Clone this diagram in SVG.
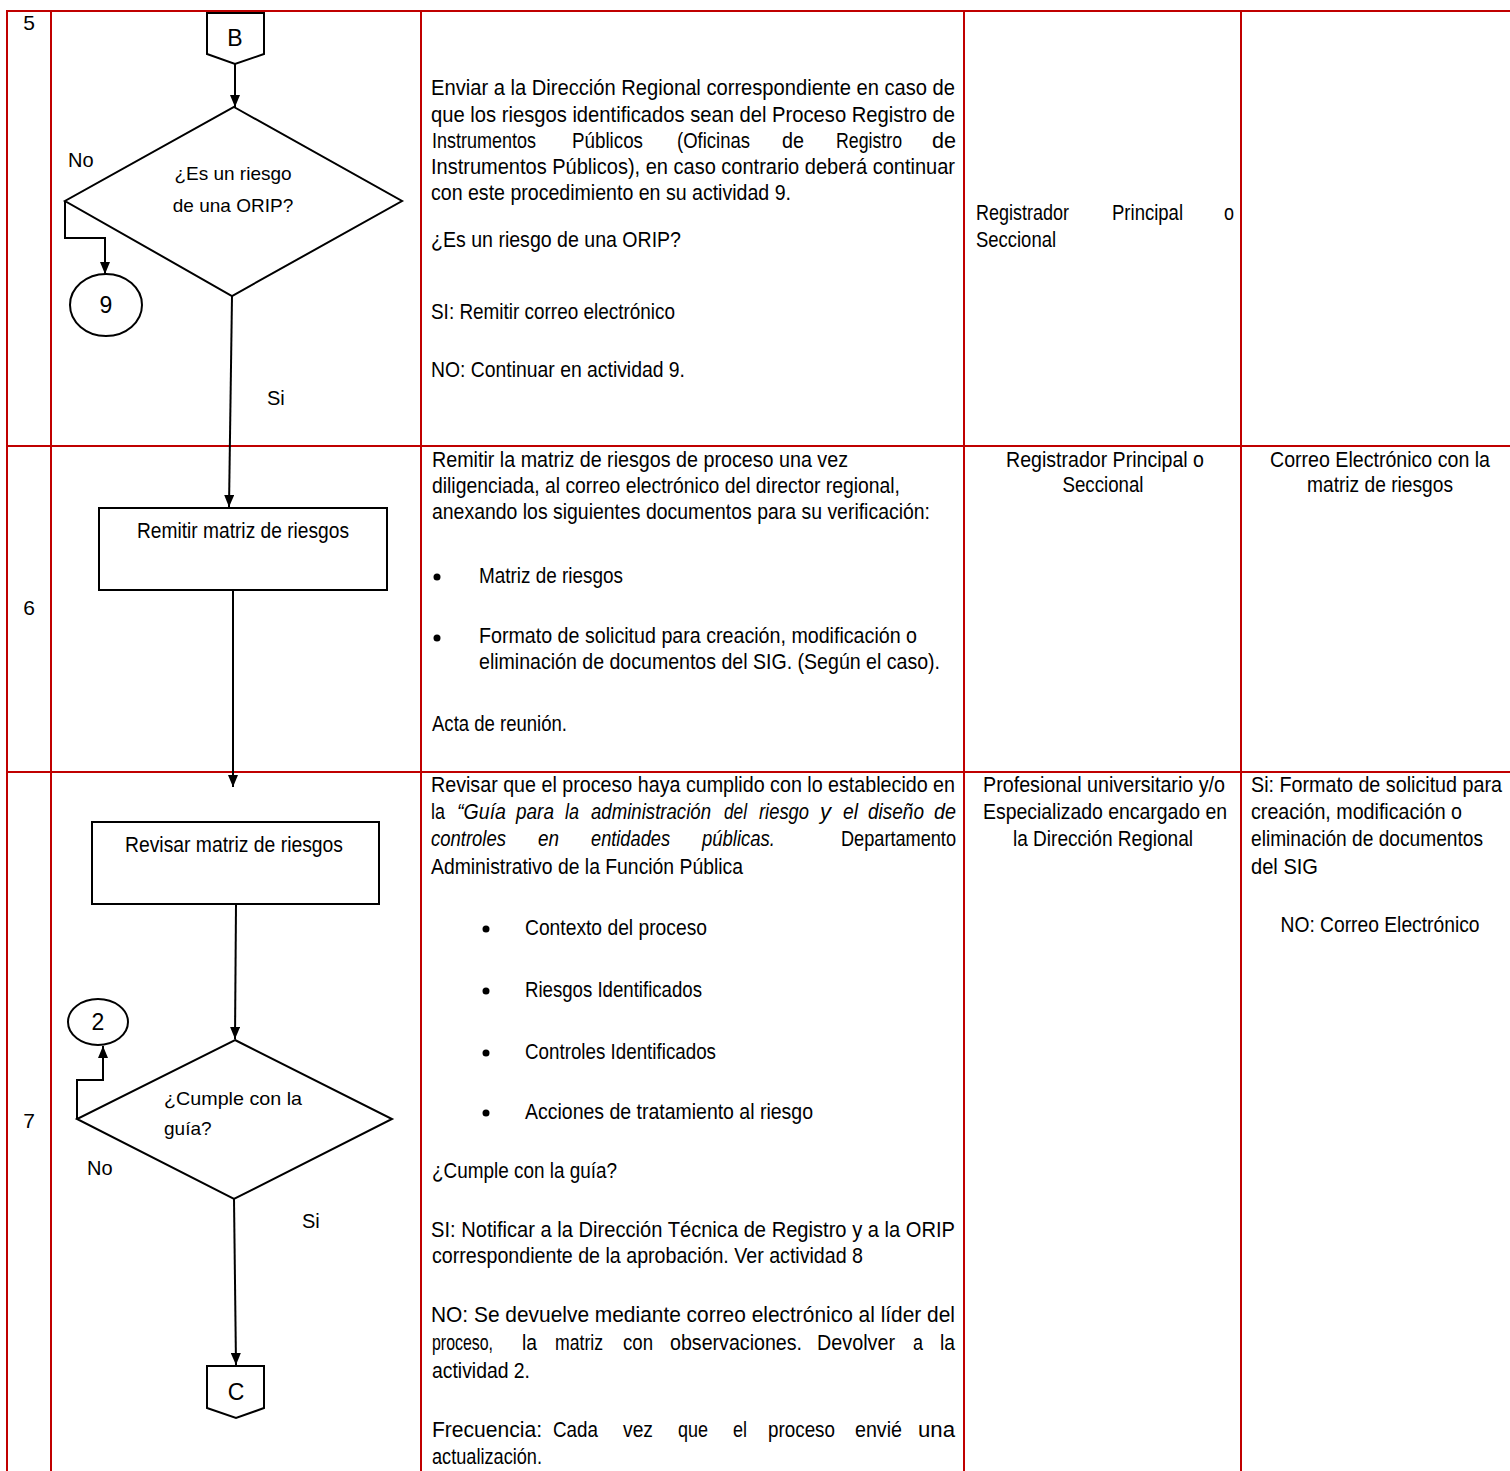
<svg xmlns="http://www.w3.org/2000/svg" width="1510" height="1471" viewBox="0 0 1510 1471">
<defs>
<marker id="arr" viewBox="0 0 12 10" refX="12" refY="5" markerWidth="12" markerHeight="10" markerUnits="userSpaceOnUse" orient="auto">
<path d="M0,0 L12,5 L0,10 z" fill="#000"/>
</marker>
<style>
.grid{stroke:#C00000;stroke-width:2;fill:none}
.shape{fill:#fff;stroke:#000;stroke-width:2}
.conn{fill:none;stroke:#000;stroke-width:2;marker-end:url(#arr)}
.t{font-family:"Liberation Sans Narrow","Arial Narrow","Liberation Sans",Arial,sans-serif;font-size:22px;fill:#000}
.i{font-style:italic}
.d{font-family:"Liberation Sans",Arial,sans-serif;font-size:19px;fill:#000}
.lbl{font-family:"Liberation Sans",Arial,sans-serif;font-size:20px;fill:#000}
.num{font-family:"Liberation Sans",Arial,sans-serif;font-size:21px;fill:#000}
.big{font-family:"Liberation Sans",Arial,sans-serif;font-size:23px;fill:#000;text-anchor:middle}
.c{text-anchor:middle}
</style>
</defs>
<rect width="1510" height="1471" fill="#fff"/>

<g id="table">
<path class="grid" d="M6,11 H1510 M7,11 V1471 M51,11 V1471 M421,11 V1471 M964,11 V1471 M1241,11 V1471 M6,446 H1510 M6,772 H1510"/>
<text class="num" x="29" y="30" text-anchor="middle">5</text>
<text class="num" x="29" y="615" text-anchor="middle">6</text>
<text class="num" x="29" y="1128" text-anchor="middle">7</text>
</g>

<g id="row5-desc">
<text class="t" x="431" y="95" textLength="524" lengthAdjust="spacingAndGlyphs">Enviar a la Dirección Regional correspondiente en caso de</text>
<text class="t" x="431" y="122" textLength="524" lengthAdjust="spacingAndGlyphs">que los riesgos identificados sean del Proceso Registro de</text>
<text class="t" x="432" y="148" textLength="104" lengthAdjust="spacingAndGlyphs">Instrumentos</text>
<text class="t" x="572" y="148" textLength="71" lengthAdjust="spacingAndGlyphs">Públicos</text>
<text class="t" x="677" y="148" textLength="73" lengthAdjust="spacingAndGlyphs">(Oficinas</text>
<text class="t" x="782" y="148" textLength="22" lengthAdjust="spacingAndGlyphs">de</text>
<text class="t" x="836" y="148" textLength="66" lengthAdjust="spacingAndGlyphs">Registro</text>
<text class="t" x="932" y="148" textLength="24" lengthAdjust="spacingAndGlyphs">de</text>
<text class="t" x="431" y="174" textLength="524" lengthAdjust="spacingAndGlyphs">Instrumentos Públicos), en caso contrario deberá continuar</text>
<text class="t" x="431" y="200" textLength="360" lengthAdjust="spacingAndGlyphs">con este procedimiento  en su actividad 9.</text>
<text class="t" x="431" y="247" textLength="250" lengthAdjust="spacingAndGlyphs">¿Es un riesgo de una ORIP?</text>
<text class="t" x="431" y="319" textLength="244" lengthAdjust="spacingAndGlyphs">SI: Remitir correo electrónico</text>
<text class="t" x="431" y="377" textLength="254" lengthAdjust="spacingAndGlyphs">NO: Continuar en actividad 9.</text>
</g>
<g id="row5-resp">
<text class="t" x="976" y="220" textLength="93" lengthAdjust="spacingAndGlyphs">Registrador</text>
<text class="t" x="1112" y="220" textLength="71" lengthAdjust="spacingAndGlyphs">Principal</text>
<text class="t" x="1224" y="220" textLength="10" lengthAdjust="spacingAndGlyphs">o</text>
<text class="t" x="976" y="247" textLength="80" lengthAdjust="spacingAndGlyphs">Seccional</text>
</g>

<g id="row6-desc">
<text class="t" x="432" y="467" textLength="416" lengthAdjust="spacingAndGlyphs">Remitir la matriz de riesgos de proceso una vez</text>
<text class="t" x="432" y="493" textLength="468" lengthAdjust="spacingAndGlyphs">diligenciada, al correo electrónico del director regional,</text>
<text class="t" x="432" y="519" textLength="498" lengthAdjust="spacingAndGlyphs">anexando los siguientes documentos para su verificación:</text>
<circle cx="437" cy="577" r="3.5" fill="#000"/>
<text class="t" x="479" y="583" textLength="144" lengthAdjust="spacingAndGlyphs">Matriz de riesgos</text>
<circle cx="437" cy="638" r="3.5" fill="#000"/>
<text class="t" x="479" y="643" textLength="438" lengthAdjust="spacingAndGlyphs">Formato de solicitud para creación, modificación o</text>
<text class="t" x="479" y="669" textLength="461" lengthAdjust="spacingAndGlyphs">eliminación de documentos del SIG. (Según el caso).</text>
<text class="t" x="432" y="731" textLength="135" lengthAdjust="spacingAndGlyphs">Acta de reunión.</text>
</g>
<g id="row6-resp">
<text class="t c" x="1105" y="467" textLength="198" lengthAdjust="spacingAndGlyphs">Registrador Principal o</text>
<text class="t c" x="1103" y="492" textLength="81" lengthAdjust="spacingAndGlyphs">Seccional</text>
</g>
<g id="row6-reg">
<text class="t c" x="1380" y="467" textLength="220" lengthAdjust="spacingAndGlyphs">Correo Electrónico con la</text>
<text class="t c" x="1380" y="492" textLength="146" lengthAdjust="spacingAndGlyphs">matriz de riesgos</text>
</g>

<g id="row7-desc">
<text class="t" x="431" y="792" textLength="524" lengthAdjust="spacingAndGlyphs">Revisar que el proceso haya cumplido con lo establecido en</text>
<text class="t" x="431" y="819" textLength="14" lengthAdjust="spacingAndGlyphs">la</text>
<text class="t i" x="457" y="819" textLength="49" lengthAdjust="spacingAndGlyphs">“Guía</text>
<text class="t i" x="516" y="819" textLength="38" lengthAdjust="spacingAndGlyphs">para</text>
<text class="t i" x="565" y="819" textLength="14" lengthAdjust="spacingAndGlyphs">la</text>
<text class="t i" x="591" y="819" textLength="120" lengthAdjust="spacingAndGlyphs">administración</text>
<text class="t i" x="724" y="819" textLength="23" lengthAdjust="spacingAndGlyphs">del</text>
<text class="t i" x="759" y="819" textLength="50" lengthAdjust="spacingAndGlyphs">riesgo</text>
<text class="t i" x="820" y="819" textLength="11" lengthAdjust="spacingAndGlyphs">y</text>
<text class="t i" x="843" y="819" textLength="15" lengthAdjust="spacingAndGlyphs">el</text>
<text class="t i" x="868" y="819" textLength="56" lengthAdjust="spacingAndGlyphs">diseño</text>
<text class="t i" x="934" y="819" textLength="22" lengthAdjust="spacingAndGlyphs">de</text>
<text class="t i" x="431" y="846" textLength="75" lengthAdjust="spacingAndGlyphs">controles</text>
<text class="t i" x="538" y="846" textLength="21" lengthAdjust="spacingAndGlyphs">en</text>
<text class="t i" x="591" y="846" textLength="79" lengthAdjust="spacingAndGlyphs">entidades</text>
<text class="t i" x="702" y="846" textLength="73" lengthAdjust="spacingAndGlyphs">públicas.</text>
<text class="t" x="841" y="846" textLength="115" lengthAdjust="spacingAndGlyphs">Departamento</text>
<text class="t" x="431" y="874" textLength="312" lengthAdjust="spacingAndGlyphs">Administrativo de la Función Pública</text>
<circle cx="486" cy="929" r="3.5" fill="#000"/>
<text class="t" x="525" y="935" textLength="182" lengthAdjust="spacingAndGlyphs">Contexto del proceso</text>
<circle cx="486" cy="991" r="3.5" fill="#000"/>
<text class="t" x="525" y="997" textLength="177" lengthAdjust="spacingAndGlyphs">Riesgos Identificados</text>
<circle cx="486" cy="1053" r="3.5" fill="#000"/>
<text class="t" x="525" y="1059" textLength="191" lengthAdjust="spacingAndGlyphs">Controles Identificados</text>
<circle cx="486" cy="1113" r="3.5" fill="#000"/>
<text class="t" x="525" y="1119" textLength="288" lengthAdjust="spacingAndGlyphs">Acciones de tratamiento al riesgo</text>
<text class="t" x="432" y="1178" textLength="185" lengthAdjust="spacingAndGlyphs">¿Cumple con la guía?</text>
<text class="t" x="431" y="1237" textLength="524" lengthAdjust="spacingAndGlyphs">SI: Notificar a la Dirección Técnica de Registro y a la ORIP</text>
<text class="t" x="432" y="1263" textLength="431" lengthAdjust="spacingAndGlyphs">correspondiente de la aprobación. Ver actividad 8</text>
<text class="t" x="431" y="1322" textLength="524" lengthAdjust="spacingAndGlyphs">NO: Se devuelve mediante correo electrónico al líder del</text>
<text class="t" x="432" y="1350" textLength="61" lengthAdjust="spacingAndGlyphs">proceso,</text>
<text class="t" x="522" y="1350" textLength="15" lengthAdjust="spacingAndGlyphs">la</text>
<text class="t" x="555" y="1350" textLength="48" lengthAdjust="spacingAndGlyphs">matriz</text>
<text class="t" x="623" y="1350" textLength="30" lengthAdjust="spacingAndGlyphs">con</text>
<text class="t" x="670" y="1350" textLength="132" lengthAdjust="spacingAndGlyphs">observaciones.</text>
<text class="t" x="817" y="1350" textLength="78" lengthAdjust="spacingAndGlyphs">Devolver</text>
<text class="t" x="913" y="1350" textLength="10" lengthAdjust="spacingAndGlyphs">a</text>
<text class="t" x="940" y="1350" textLength="15" lengthAdjust="spacingAndGlyphs">la</text>
<text class="t" x="432" y="1378" textLength="98" lengthAdjust="spacingAndGlyphs">actividad 2.</text>
<text class="t" x="432" y="1437" textLength="110" lengthAdjust="spacingAndGlyphs">Frecuencia:</text>
<text class="t" x="553" y="1437" textLength="45" lengthAdjust="spacingAndGlyphs">Cada</text>
<text class="t" x="623" y="1437" textLength="30" lengthAdjust="spacingAndGlyphs">vez</text>
<text class="t" x="678" y="1437" textLength="30" lengthAdjust="spacingAndGlyphs">que</text>
<text class="t" x="733" y="1437" textLength="14" lengthAdjust="spacingAndGlyphs">el</text>
<text class="t" x="768" y="1437" textLength="67" lengthAdjust="spacingAndGlyphs">proceso</text>
<text class="t" x="855" y="1437" textLength="47" lengthAdjust="spacingAndGlyphs">envié</text>
<text class="t" x="918" y="1437" textLength="37" lengthAdjust="spacingAndGlyphs">una</text>
<text class="t" x="432" y="1464" textLength="110" lengthAdjust="spacingAndGlyphs">actualización.</text>
</g>
<g id="row7-resp">
<text class="t c" x="1104" y="792" textLength="242" lengthAdjust="spacingAndGlyphs">Profesional universitario y/o</text>
<text class="t c" x="1105" y="819" textLength="244" lengthAdjust="spacingAndGlyphs">Especializado encargado en</text>
<text class="t c" x="1103" y="846" textLength="180" lengthAdjust="spacingAndGlyphs">la Dirección Regional</text>
</g>
<g id="row7-reg">
<text class="t" x="1251" y="792" textLength="251" lengthAdjust="spacingAndGlyphs">Si: Formato de solicitud para</text>
<text class="t" x="1251" y="819" textLength="211" lengthAdjust="spacingAndGlyphs">creación, modificación o</text>
<text class="t" x="1251" y="846" textLength="232" lengthAdjust="spacingAndGlyphs">eliminación de documentos</text>
<text class="t" x="1251" y="874" textLength="67" lengthAdjust="spacingAndGlyphs">del SIG</text>
<text class="t c" x="1380" y="932" textLength="199" lengthAdjust="spacingAndGlyphs">NO: Correo Electrónico</text>
</g>

<g id="connectors">
<path class="conn" d="M235,64 L235,107"/>
<path class="conn" d="M65,201 V238 H105 V274"/>
<path class="conn" d="M232,296 L229,507"/>
<path class="conn" d="M233,590 L233,787"/>
<path class="conn" d="M236,904 L235,1039"/>
<path class="conn" d="M77,1119 V1080 H103 V1046"/>
<path class="conn" d="M234,1199 L236,1365"/>
<text class="lbl" x="68" y="167">No</text>
<text class="lbl" x="267" y="405">Si</text>
<text class="lbl" x="87" y="1175">No</text>
<text class="lbl" x="302" y="1228">Si</text>
</g>

<g id="node-B">
<polygon class="shape" points="207,13 264,13 264,54 235,64 207,54"/>
<text class="big" x="235" y="46">B</text>
</g>
<g id="node-decision-orip">
<polygon class="shape" points="234,107 402,201 232,296 65,201"/>
<text class="d c" x="233" y="180">¿Es un riesgo</text>
<text class="d c" x="233" y="212">de una ORIP?</text>
</g>
<g id="node-9">
<ellipse class="shape" cx="106" cy="305" rx="36" ry="31"/>
<text class="big" x="106" y="313">9</text>
</g>
<g id="node-remitir">
<rect class="shape" x="99" y="508" width="288" height="82"/>
<text class="t c" x="243" y="538" textLength="212" lengthAdjust="spacingAndGlyphs">Remitir matriz de riesgos</text>
</g>
<g id="node-revisar">
<rect class="shape" x="92" y="822" width="287" height="82"/>
<text class="t c" x="234" y="852" textLength="218" lengthAdjust="spacingAndGlyphs">Revisar matriz de riesgos</text>
</g>
<g id="node-decision-guia">
<polygon class="shape" points="235,1040 392,1119 234,1199 77,1119"/>
<text class="d" x="164" y="1105" textLength="138" lengthAdjust="spacingAndGlyphs">¿Cumple con la</text>
<text class="d" x="164" y="1135">guía?</text>
</g>
<g id="node-2">
<ellipse class="shape" cx="98" cy="1022" rx="30" ry="23"/>
<text class="big" x="98" y="1030">2</text>
</g>
<g id="node-C">
<polygon class="shape" points="207,1366 264,1366 264,1408 236,1418 207,1408"/>
<text class="big" x="236" y="1400">C</text>
</g>
</svg>
